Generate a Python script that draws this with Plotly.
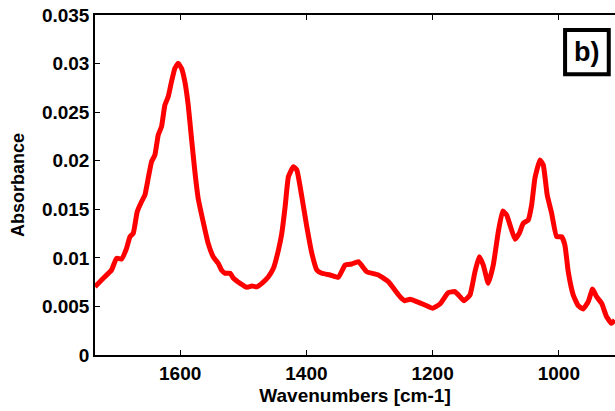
import plotly.graph_objects as go

# FTIR absorbance spectrum
wavenumber = [
    1735.0, 1721.9, 1708.8, 1700.9, 1693.0, 1685.0, 1679.6, 1674.4, 1668.1, 1661.3,
    1655.9, 1650.7, 1645.4, 1640.1, 1634.8, 1629.6, 1624.2, 1619.0, 1613.8, 1608.4,
    1603.2, 1597.9, 1592.6, 1587.3, 1582.1, 1576.7, 1571.5, 1563.6, 1555.7, 1547.7,
    1539.8, 1534.6, 1528.7, 1520.8, 1515.6, 1505.0, 1494.4, 1486.5, 1478.5, 1470.6,
    1460.2, 1452.3, 1444.3, 1439.0, 1433.7, 1428.5, 1420.6, 1415.2, 1407.3, 1399.4,
    1391.4, 1383.5, 1375.6, 1362.5, 1349.3, 1338.7, 1328.1, 1317.7, 1304.4, 1286.0,
    1270.2, 1251.6, 1243.7, 1235.8, 1225.2, 1212.1, 1199.8, 1188.3, 1175.2, 1164.5,
    1156.6, 1150.3, 1140.8, 1132.9, 1126.1, 1119.7, 1111.8, 1103.9, 1095.9, 1089.0,
    1082.7, 1077.4, 1069.5, 1062.7, 1056.4, 1048.5, 1043.1, 1037.9, 1029.9, 1024.7,
    1018.4, 1011.4, 1003.5, 995.6, 990.4, 985.1, 977.2, 969.3, 961.4, 953.4,
    946.5, 940.2, 932.2, 924.3, 916.4, 911.2,
]
absorbance = [
    0.00703, 0.00790, 0.00875, 0.00995, 0.00988, 0.01098, 0.01218, 0.01253, 0.01475, 0.01578,
    0.01647, 0.01819, 0.01990, 0.02059, 0.02265, 0.02350, 0.02574, 0.02659, 0.02813, 0.02951,
    0.03003, 0.02951, 0.02813, 0.02574, 0.02231, 0.01887, 0.01613, 0.01372, 0.01150, 0.01012,
    0.00944, 0.00875, 0.00841, 0.00841, 0.00790, 0.00738, 0.00697, 0.00710, 0.00703, 0.00738,
    0.00806, 0.00892, 0.01081, 0.01253, 0.01527, 0.01835, 0.01938, 0.01904, 0.01630, 0.01321,
    0.01047, 0.00875, 0.00841, 0.00824, 0.00800, 0.00926, 0.00937, 0.00960, 0.00857, 0.00824,
    0.00755, 0.00600, 0.00559, 0.00573, 0.00549, 0.00515, 0.00481, 0.00525, 0.00641, 0.00652,
    0.00600, 0.00559, 0.00618, 0.00857, 0.01012, 0.00926, 0.00738, 0.00926, 0.01270, 0.01482,
    0.01441, 0.01338, 0.01191, 0.01253, 0.01356, 0.01390, 0.01544, 0.01819, 0.02007, 0.01956,
    0.01647, 0.01459, 0.01218, 0.01218, 0.01132, 0.00857, 0.00618, 0.00508, 0.00474, 0.00549,
    0.00679, 0.00600, 0.00532, 0.00394, 0.00326, 0.00360,
]

x_ticks = [1600, 1400, 1200, 1000]
y_ticks = [0, 0.005, 0.01, 0.015, 0.02, 0.025, 0.03, 0.035]
y_tick_text = ["0", "0.005", "0.01", "0.015", "0.02", "0.025", "0.03", "0.035"]

FONT = "Liberation Sans"

fig = go.Figure()
fig.add_trace(go.Scatter(
    x=wavenumber, y=absorbance, mode="lines",
    line=dict(color="#ff0000", width=5, shape="spline", smoothing=0.4),
    hoverinfo="skip", showlegend=False,
))

axis_font = dict(family=FONT, size=19, color="black")

fig.update_layout(
    width=615, height=411,
    margin=dict(l=95, r=0, t=15, b=56),
    paper_bgcolor="white", plot_bgcolor="white",
    font=dict(family=FONT, color="black"),
    xaxis=dict(
        range=[1735, 911], autorange=False,
        tickvals=x_ticks, ticktext=[f"<b>{v}</b>" for v in x_ticks],
        tickfont=axis_font,
        ticks="inside", ticklen=5, tickwidth=1, tickcolor="black",
        showline=True, linecolor="black", linewidth=1.5, mirror="ticks",
        showgrid=False, zeroline=False,
        title=dict(text="<b>Wavenumbers [cm-1]</b>", font=axis_font, standoff=6),
    ),
    yaxis=dict(
        range=[0, 0.035], autorange=False,
        tickvals=y_ticks, ticktext=[f"<b>{t}</b>" for t in y_tick_text],
        tickfont=axis_font,
        ticks="inside", ticklen=5, tickwidth=1, tickcolor="black",
        showline=True, linecolor="black", linewidth=1.5, mirror=False,
        showgrid=False, zeroline=False,
        title=dict(text="<b>Absorbance</b>", font=dict(family=FONT, size=18, color="black"), standoff=13),
    ),
)

# panel label in a framed box
fig.add_shape(
    type="rect", xref="paper", yref="paper",
    x0=0.904, x1=0.988, y0=0.826, y1=0.956,
    line=dict(color="black", width=4), fillcolor="white",
)
fig.add_annotation(
    xref="paper", yref="paper", x=0.946, y=0.891,
    text="<b>b)</b>", showarrow=False,
    font=dict(family=FONT, size=27, color="black"),
    xanchor="center", yanchor="middle",
)

fig.write_html("out.html")
